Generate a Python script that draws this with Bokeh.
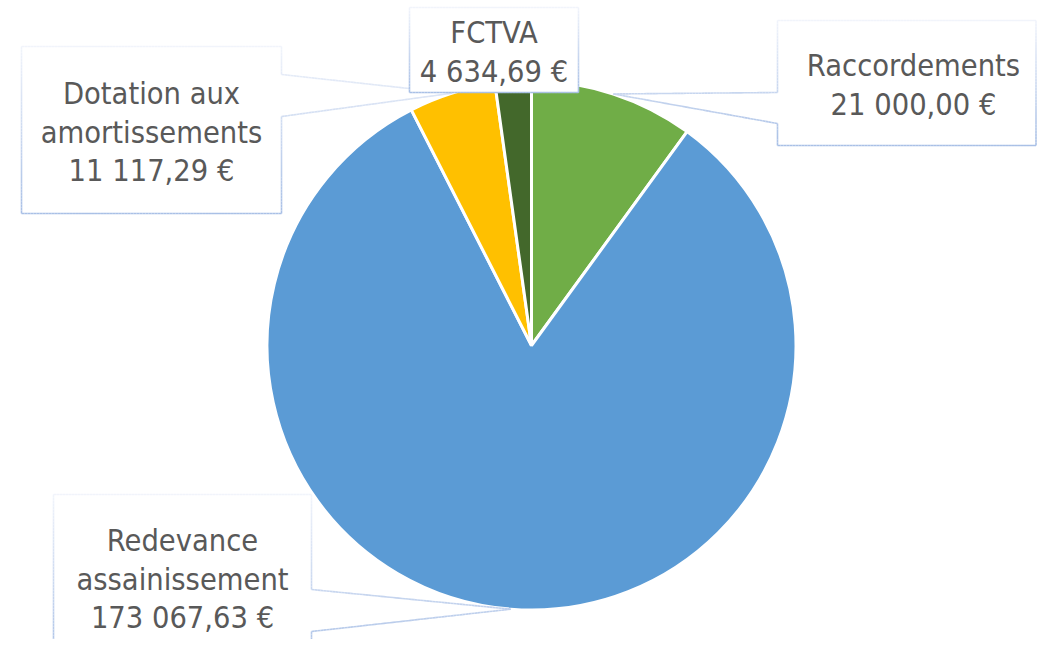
import math
from bokeh.plotting import figure
from bokeh.models import Range1d, ColumnDataSource
from bokeh.core.properties import value
from bokeh.embed import file_html
from bokeh.resources import INLINE

# ---------------- data ----------------
categories = ["Raccordements", "Redevance assainissement",
              "Dotation aux amortissements", "FCTVA"]
values = [21000.00, 173067.63, 11117.29, 4634.69]
name_lines = [["Raccordements"], ["Redevance", "assainissement"],
              ["Dotation aux", "amortissements"], ["FCTVA"]]
colors = ["#70AD47", "#5B9BD5", "#FFC000", "#43682B"]

# ---------------- layout (screen pixels) ----------------
W, H = 1037, 639
OFF = 0
SCREEN_H = 655
CX, CY, R = 531.0, 345.0, 264.5
FONT = "DejaVu Sans Condensed"
FONT_SIZE = "30.5px"
LINE_GAP = 38.5
TEXT_COLOR = "#595959"

callouts = {
    "Raccordements": dict(box=(777, 20, 1035.5, 145), side="left", attach=(92, 123), first=65),
    "Redevance assainissement": dict(box=(53, 494, 311, 662), side="right", attach=(589, 631), first=540),
    "Dotation aux amortissements": dict(box=(21, 46, 281, 213), side="right", attach=(74, 116), first=93),
    "FCTVA": dict(box=(409, 7, 578, 92), side=None, attach=None, first=32),
}
draw_order = ["Dotation aux amortissements", "Redevance assainissement", "Raccordements", "FCTVA"]


def Y(sy):
    return SCREEN_H - sy


def fmt_eur(v):
    s = f"{v:,.2f}".replace(",", " ").replace(".", ",")
    return s + " €"


def mix(c1, c2, t):
    a = [int(c1[i:i + 2], 16) for i in (1, 3, 5)]
    b = [int(c2[i:i + 2], 16) for i in (1, 3, 5)]
    return "#%02x%02x%02x" % tuple(round(a[k] + (b[k] - a[k]) * t) for k in range(3))


p = figure(width=W, height=H,
           x_range=Range1d(OFF, OFF + W),
           y_range=Range1d(SCREEN_H - OFF - H, SCREEN_H - OFF),
           output_backend="svg", toolbar_location=None, min_border=0)
p.axis.visible = False
p.grid.visible = False
p.outline_line_color = None
p.background_fill_color = "white"
p.border_fill_color = "white"

# ---------------- pie ----------------
total = sum(values)
starts, ends, mids = [], [], []
acc = 0.0
for v in values:
    a0 = acc / total * 360.0
    acc += v
    a1 = acc / total * 360.0
    # clockwise-from-top -> bokeh anticlockwise-from-x
    starts.append(math.radians(90.0 - a1))
    ends.append(math.radians(90.0 - a0))
    mids.append((a0 + a1) / 2.0)

src = ColumnDataSource(dict(x=[CX] * len(values), y=[Y(CY)] * len(values),
                            start=starts, end=ends, color=colors, cat=categories))
p.wedge(x="x", y="y", radius=R, start_angle="start", end_angle="end",
        fill_color="color", line_color="white", line_width=3, source=src)

# ---------------- callouts ----------------
TOP_C = "#f1f4fb"
BOT_C = "#a9c0e6"

for name in draw_order:
    i = categories.index(name)
    c = callouts[name]
    x0, y0, x1, y1 = c["box"]
    th = math.radians(mids[i])
    tip = (CX + R * math.sin(th), CY - R * math.cos(th))
    if c["side"] == "right":
        a0, a1 = c["attach"]
        pts = [(x0, y0), (x1, y0), (x1, a0), tip, (x1, a1), (x1, y1), (x0, y1)]
    elif c["side"] == "left":
        a0, a1 = c["attach"]
        pts = [(x0, y0), (x1, y0), (x1, y1), (x0, y1), (x0, a1), tip, (x0, a0)]
    else:
        pts = [(x0, y0), (x1, y0), (x1, y1), (x0, y1)]
    p.patch([q[0] for q in pts], [Y(q[1]) for q in pts],
            fill_color="white", line_color=None)
    sx0, sy0, sx1, sy1, sc = [], [], [], [], []
    n = len(pts)
    for k in range(n):
        ax, ay = pts[k]
        bx, by = pts[(k + 1) % n]
        L = math.hypot(bx - ax, by - ay)
        m = max(1, int(L / 3))
        for j in range(m):
            t0, t1 = j / m, (j + 1) / m
            px0, py0 = ax + (bx - ax) * t0, ay + (by - ay) * t0
            px1, py1 = ax + (bx - ax) * t1, ay + (by - ay) * t1
            tt = ((py0 + py1) / 2 - y0) / (y1 - y0)
            tt = min(1.0, max(0.0, tt))
            sx0.append(px0); sy0.append(Y(py0)); sx1.append(px1); sy1.append(Y(py1))
            sc.append(mix(TOP_C, BOT_C, tt))
    p.segment(x0="x0", y0="y0", x1="x1", y1="y1", line_color="c", line_width=1.6,
              source=ColumnDataSource(dict(x0=sx0, y0=sy0, x1=sx1, y1=sy1, c=sc)))

    lines = name_lines[i] + [fmt_eur(values[i])]
    tx = (x0 + x1) / 2.0 if c["box"][2] < 1030 else 913.0
    ty = [Y(c["first"] + LINE_GAP * k) for k in range(len(lines))]
    p.text(x=[tx] * len(lines), y=ty, text=lines, text_align="center",
           text_baseline="middle", text_font=value(FONT), text_font_size=FONT_SIZE,
           text_color=TEXT_COLOR)

open("out.html", "w").write(file_html(p, INLINE))
